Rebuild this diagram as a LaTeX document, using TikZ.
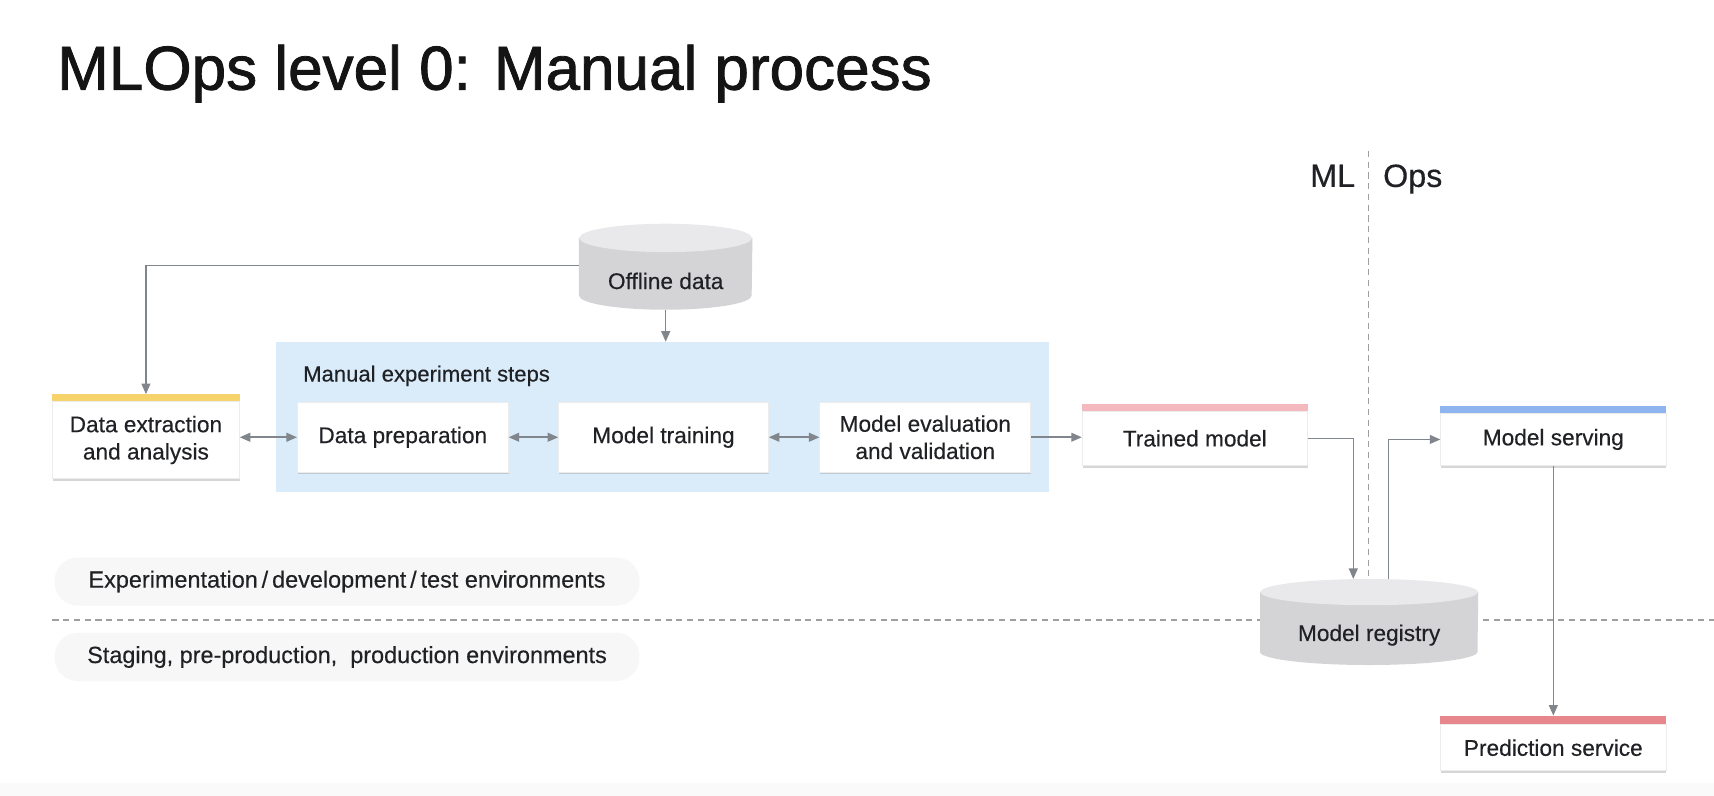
\documentclass[tikz,border=0pt]{standalone}
\usepackage{fontspec}
\setmainfont{Liberation Sans}[FakeBold=0.3]
\newfontfamily\titlefam{Liberation Sans}[FakeBold=1.3]
\usetikzlibrary{positioning,arrows.meta,calc,shadows,backgrounds}

\definecolor{inkdark}{HTML}{202124}
\definecolor{linegray}{HTML}{80868B}
\definecolor{stepsblue}{HTML}{DAEBFA}
\definecolor{baryellow}{HTML}{F6D36B}
\definecolor{barpink}{HTML}{F3B9BE}
\definecolor{barblue}{HTML}{8FB5F0}
\definecolor{barred}{HTML}{E7878C}
\definecolor{dbtop}{HTML}{E9E9EB}
\definecolor{dbside}{HTML}{D4D4D7}
\definecolor{pillgray}{HTML}{F7F7F8}

\newcommand{\boxfont}{\fontsize{11.8}{14.2}\selectfont}
\newcommand{\titlefont}{\titlefam\fontsize{32.3}{39}\selectfont}
\newcommand{\splitfont}{\fontsize{16.8}{20}\selectfont}
\newcommand{\smallfont}{\fontsize{11.5}{14}\selectfont}
\newcommand{\envfont}{\fontsize{12.2}{14}\selectfont}

% cylinder round a node: name, x radius, y radius
\newcommand{\drawdb}[3]{%
  \fill[dbside] ($(#1.north west)+(0pt,#3)$) -- ($(#1.south west)+(0pt,#3)$)
    arc[start angle=180, end angle=360, x radius=#2, y radius=#3]
    -- ($(#1.north east)+(0pt,#3)$) -- cycle;
  \fill[dbtop] ($(#1.north)+(0pt,#3)$) ellipse[x radius=#2, y radius=#3];
}

\tikzset{
  box/.style={draw=gray!15, line width=0.4pt, fill=white, align=center, inner sep=2pt,
    drop shadow={shadow xshift=0.3pt, shadow yshift=-1pt, opacity=0.35, fill=black!45}},
  stepsbox/.style={fill=stepsblue, minimum width=14.16cm, minimum height=2.74cm},
  pill/.style={fill=pillgray, rounded corners=0.42cm, minimum width=10.7cm, minimum height=0.88cm, font=\envfont},
  dbnode/.style={inner sep=0pt, align=center},
  wire/.style={draw=linegray, line width=0.8pt},
  arr/.style={wire, -{Triangle[length=5.5pt, width=4.6pt]}},
  darr/.style={wire, {Triangle[length=5.5pt, width=4.6pt]}-{Triangle[length=5.5pt, width=4.6pt]}},
  divider/.style={draw=gray!75, line width=0.8pt, dash pattern=on 3.2pt off 2.4pt}
}

\begin{document}
\begin{tikzpicture}[x=0.02cm, y=0.02cm, font=\boxfont, text=inkdark]
    \useasboundingbox (0,0) rectangle (1568,-728);

    % title and ML / Ops split
    \node[anchor=base west, inner sep=0pt, font=\titlefont, text=black!92] (title) at (52,-82) {MLOps level 0: Manual process};
    \node[anchor=base east, inner sep=0pt, font=\splitfont] (ml) at (1240,-171) {ML};
    \node[anchor=base west, inner sep=0pt, font=\splitfont] (ops) at (1265,-171) {Ops};

    % environment labels
    \node[pill] (devenv) at (317.5,-532) {Experimentation\,/\,development\,/\,test environments};
    \node[pill] (prodenv) at (317.5,-601) {Staging, pre-production,\ \ production environments};

    % experiment steps
    \node[stepsbox] (steps) at (606,-381.5) {};
    \node[anchor=base west, inner sep=0pt, font=\smallfont] (stepslabel) at (277,-349) {Manual experiment steps};

    \node[box, minimum width=3.42cm, minimum height=1.42cm] (extract) at (133.5,-402.5) {Data extraction\\and analysis};
    \node[box, minimum width=3.86cm, minimum height=1.28cm] (prep) at (368.5,-400) {Data preparation};
    \node[box, minimum width=3.84cm, minimum height=1.28cm] (train) at (607,-400) {Model training};
    \node[box, minimum width=3.86cm, minimum height=1.28cm] (eval) at (846.5,-400) {Model evaluation\\and validation};
    \node[box, minimum width=4.12cm, minimum height=1.0cm] (trained) at (1093,-401) {Trained model};
    \node[box, minimum width=4.12cm, minimum height=0.96cm] (serving) at (1421,-402) {Model serving};
    \node[box, minimum width=4.12cm, minimum height=0.84cm] (predict) at (1421,-684) {Prediction service};

    % coloured tabs
    \fill[baryellow] (extract.north west) rectangle ($(extract.north east)+(0,6)$);
    \fill[barpink] (trained.north west) rectangle ($(trained.north east)+(0,6)$);
    \fill[barblue] (serving.north west) rectangle ($(serving.north east)+(0,6)$);
    \fill[barred] (predict.north west) rectangle ($(predict.north east)+(0,8)$);
    \coordinate (extract top) at ($(extract.north)+(0,6)$);
    \coordinate (predict top) at ($(predict.north)+(0,8)$);

    % data stores
    \node[dbnode, minimum width=3.16cm, minimum height=1.04cm] (offline) at (609,-257) {Offline data};
    \node[dbnode, minimum width=3.98cm, minimum height=1.08cm] (registry) at (1252.5,-581) {Model registry};
    \coordinate (reg in) at ($(registry.north)+(-14.5,24)$);
    \coordinate (reg out) at ($(registry.north)+(17.5,24)$);

    \begin{scope}[on background layer]
        \fill[white] (0,0) rectangle (1568,-728);
        \fill[gray!4] (0,-716) rectangle (1568,-728);
        \draw[divider] (1252,-138) -- (1252,-527);
        \draw[divider] (48,-567) -- (1568,-567);
        \drawdb{offline}{1.58cm}{0.26cm}
        \drawdb{registry}{1.99cm}{0.24cm}
    \end{scope}

    \draw[arr] ([yshift=0.28cm]offline.west) -| (extract top);
    \draw[arr] (offline.south) -- (offline.south |- steps.north);
    \draw[darr] (prep.west -| extract.east) -- (prep.west);
    \draw[darr] (prep.east) -- (train.west);
    \draw[darr] (train.east) -- (eval.west);
    \draw[arr] (eval.east) -- (eval.east -| trained.west);
    \draw[arr] (trained.east) -| (reg in);
    \draw[arr] (reg out) |- (serving.west);
    \draw[arr] (serving.south) -- (predict top);
\end{tikzpicture}
\end{document}
